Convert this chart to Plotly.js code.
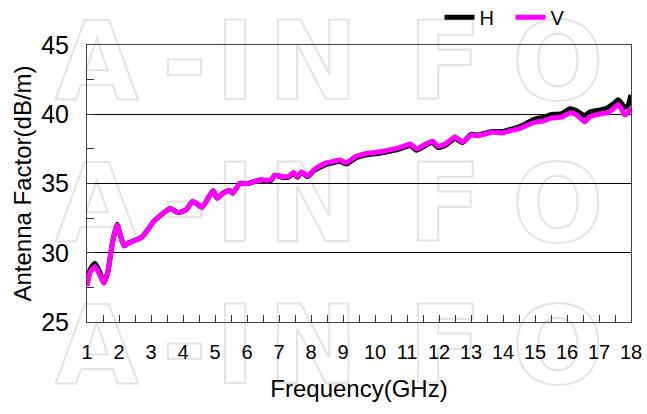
<!DOCTYPE html>
<html>
<head>
<meta charset="utf-8">
<script src="https://cdn.plot.ly/plotly-3.0.1.min.js"></script>
<style>
html,body{margin:0;padding:0;background:#fff;}
#chart{width:647px;height:414px;}
</style>
</head>
<body>
<div id="chart"></div>
<script>
// Frequency (GHz)
const freq = [1.00,1.10,1.25,1.40,1.53,1.65,1.80,1.94,2.05,2.16,2.30,2.50,2.70,2.88,3.10,3.30,3.60,3.84,4.10,4.30,4.60,4.94,5.06,5.25,5.45,5.55,5.78,6.03,6.40,6.74,6.87,7.10,7.30,7.45,7.58,7.70,7.90,8.10,8.30,8.50,8.70,8.90,9.10,9.40,9.60,9.83,10.05,10.30,10.50,10.70,10.90,11.10,11.30,11.50,11.80,11.97,12.20,12.50,12.74,13.00,13.20,13.40,13.65,13.97,14.30,14.50,14.70,14.90,15.06,15.25,15.47,15.65,15.84,16.10,16.30,16.55,16.70,16.90,17.10,17.25,17.45,17.60,17.70,17.80,17.90,18.00];
// Antenna factor (dB/m), V polarisation
const afV = [27.6,28.6,29.0,28.4,27.8,28.6,30.8,32.0,31.2,30.5,30.7,30.9,31.1,31.6,32.3,32.7,33.2,32.9,33.1,33.7,33.3,34.5,33.95,34.3,34.5,34.3,35.0,35.0,35.25,35.25,35.6,35.5,35.5,35.8,35.5,35.85,35.55,36.0,36.3,36.5,36.6,36.7,36.5,36.95,37.1,37.2,37.25,37.35,37.45,37.55,37.7,37.85,37.5,37.75,38.05,37.7,37.85,38.35,38.0,38.5,38.45,38.55,38.7,38.65,38.85,38.95,39.15,39.35,39.45,39.5,39.7,39.75,39.8,40.1,39.95,39.45,39.8,39.95,40.05,40.1,40.4,40.7,40.4,39.95,40.1,40.5];
// Antenna factor (dB/m), H polarisation
const afH = [27.7,28.8,29.25,28.6,27.85,28.6,30.8,32.05,31.2,30.5,30.7,30.9,31.1,31.6,32.3,32.7,33.2,32.9,33.1,33.7,33.3,34.5,33.95,34.3,34.5,34.3,35.0,35.0,35.25,35.2,35.6,35.45,35.45,35.75,35.45,35.8,35.5,35.95,36.2,36.4,36.5,36.6,36.4,36.85,37.0,37.1,37.15,37.25,37.35,37.45,37.6,37.75,37.4,37.65,37.95,37.6,37.75,38.25,37.95,38.55,38.5,38.6,38.75,38.75,38.95,39.1,39.3,39.55,39.7,39.75,39.95,40.0,40.05,40.4,40.25,39.9,40.15,40.25,40.35,40.45,40.75,41.05,40.8,40.5,40.6,41.4];
// tick labels
const xTicks = [1,2,3,4,5,6,7,8,9,10,11,12,13,14,15,16,17,18];
const yTicks = [25,30,35,40,45];
const seriesNames = ["H","V"];
const watermarkLetters = ["A","-","I","N","F","O"];

const FONT = "Liberation Sans, Arial, sans-serif";

const traces = [
  {x: freq, y: afH, name: seriesNames[0], mode: "lines",
   line: {color: "#000000", width: 5, shape: "spline", smoothing: 0.5}},
  {x: freq, y: afV, name: seriesNames[1], mode: "lines",
   line: {color: "#ff00ff", width: 5, shape: "spline", smoothing: 0.5}}
];

// watermark letter placement (pixel centres converted to paper coords)
const L = 87, R = 631, T = 45, B = 322;
const letterX = [97,184,235,313,445,558];
const rowY = [61,204,345];
const annotations = [];
rowY.forEach(py => {
  watermarkLetters.forEach((ch, i) => {
    annotations.push({
      text: ch, xref: "paper", yref: "paper",
      x: (letterX[i]-L)/(R-L), y: (B-py)/(B-T),
      xanchor: "center", yanchor: "middle", showarrow: false,
      font: {family: "DejaVu Sans, sans-serif", size: 108, color: "#ececec", weight: 700}
    });
  });
});

const layout = {
  width: 647, height: 414,
  margin: {l: 87, r: 16, t: 45, b: 92, pad: 0, autoexpand: false},
  paper_bgcolor: "#ffffff",
  plot_bgcolor: "rgba(0,0,0,0)",
  font: {family: FONT, color: "#000"},
  showlegend: true,
  legend: {orientation: "h", x: 0.648, xanchor: "left", y: 1.10, yanchor: "middle",
           font: {family: FONT, size: 20, color: "#000"}, bgcolor: "rgba(0,0,0,0)",
           itemwidth: 30, entrywidth: 26, tracegroupgap: 0},
  xaxis: {
    range: [1, 18], tickmode: "array", tickvals: xTicks, ticktext: xTicks.map(String),
    ticks: "inside", ticklen: 7, tickwidth: 1, tickcolor: "#333",
    minor: {dtick: 0.5, tick0: 1, ticks: "inside", ticklen: 7, tickwidth: 1, tickcolor: "#333", showgrid: false},
    showline: true, linecolor: "#444", linewidth: 1, mirror: true,
    showgrid: false, zeroline: false,
    tickfont: {family: FONT, size: 20, color: "#000"},
    ticklabelstandoff: 12,
    title: {text: "Frequency(GHz)", font: {family: FONT, size: 24, color: "#000"}, standoff: 18}
  },
  yaxis: {
    range: [25, 45], tickmode: "array", tickvals: yTicks, ticktext: yTicks.map(String),
    ticks: "inside", ticklen: 7, tickwidth: 1, tickcolor: "#333",
    minor: {dtick: 2.5, tick0: 25, ticks: "inside", ticklen: 7, tickwidth: 1, tickcolor: "#333", showgrid: false},
    showline: true, linecolor: "#444", linewidth: 1, mirror: true,
    showgrid: true, gridcolor: "#000", gridwidth: 1.3, zeroline: false,
    tickfont: {family: FONT, size: 25, color: "#000"},
    ticklabelstandoff: 12,
    title: {text: "Antenna Factor(dB/m)", font: {family: FONT, size: 24, color: "#000"}, standoff: 2}
  },
  annotations: annotations
};

Plotly.newPlot("chart", traces, layout, {staticPlot: true, displayModeBar: false}).then(gd => {
  const below = gd.querySelector(".layer-below");
  gd.querySelectorAll("g.annotation").forEach(g => {
    const t = g.querySelector("text.annotation-text");
    if (t) {
      t.style.fill = "none";
      t.style.stroke = "#e4e4e4";
      t.style.strokeWidth = "2px";
    }
    if (below) below.appendChild(g);
  });
});
</script>
</body>
</html>
